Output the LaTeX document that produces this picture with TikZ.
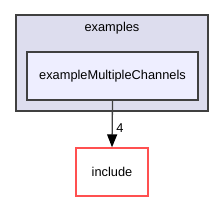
\documentclass[tikz,border=0pt]{standalone}
\usepackage{fontspec}
\setmainfont{Liberation Sans}
\usetikzlibrary{arrows.meta}
\definecolor{clfill}{HTML}{DDDDEE}
\definecolor{infill}{HTML}{EEEEFF}
\definecolor{edgegray}{HTML}{404040}
\definecolor{redb}{HTML}{FF5050}
\tikzset{
  cluster/.style={draw=edgegray, fill=clfill, line width=1.3pt},
  dirbox/.style={draw=edgegray, fill=infill, line width=1.3pt, minimum width=171pt, minimum height=48pt, inner sep=0pt, font=\fontsize{12.8}{14}\selectfont},
  extbox/.style={draw=redb, fill=white, line width=1.3pt, minimum width=72pt, minimum height=48pt, inner sep=0pt, font=\fontsize{12.8}{14}\selectfont},
  dep/.style={draw=edgegray, line width=1.3pt, -{Triangle[length=13pt,width=10pt,fill=black,color=black]}},
  lbl/.style={font=\fontsize{12.8}{14}\selectfont, inner sep=0pt}
}
\begin{document}
\begin{tikzpicture}[x=1pt,y=-1pt]
\useasboundingbox (0,0) rectangle (224,201);
\fill[white] (0,0) rectangle (224,201);
\draw[cluster] (16,15) rectangle (208,111);
\node[lbl] (cl) at (112,28) {examples};
\node[dirbox] (emc) at (112.5,76) {exampleMultipleChannels};
\node[extbox] (inc) at (112,172) {include};
\draw[dep] (emc.south) -- (inc.north);
\node[lbl] (n4) at (120,128) {4};
\end{tikzpicture}
\end{document}
